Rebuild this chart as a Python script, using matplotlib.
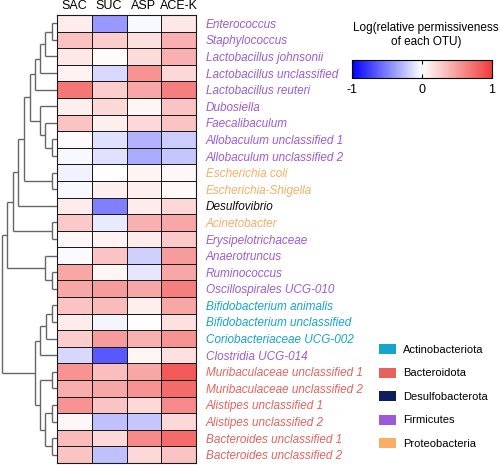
import numpy as np
import matplotlib
matplotlib.use("Agg")
import matplotlib.pyplot as plt
from matplotlib.colors import LinearSegmentedColormap, Normalize
from matplotlib.patches import Patch
import matplotlib.colorbar as mcolorbar

plt.rcParams['font.family'] = ['Liberation Sans', 'DejaVu Sans']

columns = ["SAC", "SUC", "ASP", "ACE-K"]

taxa = [
    "Enterococcus", "Staphylococcus", "Lactobacillus johnsonii",
    "Lactobacillus unclassified", "Lactobacillus reuteri", "Dubosiella",
    "Faecalibaculum", "Allobaculum unclassified 1", "Allobaculum unclassified 2",
    "Escherichia coli", "Escherichia-Shigella", "Desulfovibrio", "Acinetobacter",
    "Erysipelotrichaceae", "Anaerotruncus", "Ruminococcus",
    "Oscillospirales UCG-010", "Bifidobacterium animalis",
    "Bifidobacterium unclassified", "Coriobacteriaceae UCG-002",
    "Clostridia UCG-014", "Muribaculaceae unclassified 1",
    "Muribaculaceae unclassified 2", "Alistipes unclassified 1",
    "Alistipes unclassified 2", "Bacteroides unclassified 1",
    "Bacteroides unclassified 2",
]

phylum = [
    "Firmicutes", "Firmicutes", "Firmicutes", "Firmicutes", "Firmicutes",
    "Firmicutes", "Firmicutes", "Firmicutes", "Firmicutes",
    "Proteobacteria", "Proteobacteria", "Desulfobacterota", "Proteobacteria",
    "Firmicutes", "Firmicutes", "Firmicutes", "Firmicutes",
    "Actinobacteriota", "Actinobacteriota", "Actinobacteriota",
    "Firmicutes", "Bacteroidota", "Bacteroidota", "Bacteroidota",
    "Bacteroidota", "Bacteroidota", "Bacteroidota",
]

sac = [0.10, 0.32, 0.12, 0.07, 0.70, 0.08, 0.30, 0.02, -0.03, -0.05, -0.03, 0.10, 0.28,
       0.04, -0.02, 0.45, 0.45, 0.30, 0.10, 0.25, -0.15, 0.55, 0.42, 0.55, 0.04, 0.35, 0.30]
suc = [-0.40, 0.25, 0.02, -0.15, 0.25, 0.20, 0.08, -0.12, -0.12, 0.00, 0.08, -0.50, -0.08,
       0.07, 0.30, 0.05, 0.50, 0.35, -0.04, 0.50, -0.65, 0.33, 0.45, 0.30, -0.25, 0.20, -0.25]
asp = [-0.03, 0.15, 0.18, 0.55, 0.45, 0.05, 0.20, -0.30, -0.33, 0.06, 0.08, 0.10, 0.40,
       0.10, -0.18, -0.10, 0.45, 0.08, 0.00, 0.40, 0.05, 0.45, 0.55, 0.20, -0.22, 0.60, 0.20]
acek = [0.12, 0.40, 0.40, 0.20, 0.65, 0.30, 0.30, -0.20, -0.22, 0.04, 0.03, 0.20, 0.45,
        0.28, 0.50, 0.45, 0.65, 0.45, 0.15, 0.55, 0.15, 0.85, 0.75, 0.60, 0.20, 0.75, 0.30]

# dendrogram merges: (child a, child b, height); leaves 0..26, clusters numbered from 27
merges = [
    (0, 1, 5), (27, 2, 12), (28, 3, 17), (29, 4, 22),
    (7, 8, 5), (6, 31, 12), (5, 32, 17), (30, 33, 27),
    (9, 10, 5), (34, 35, 33), (36, 11, 39), (12, 13, 5), (37, 38, 44),
    (15, 16, 5), (14, 40, 12), (39, 41, 50),
    (17, 18, 5), (43, 19, 11), (44, 20, 17),
    (21, 22, 5), (23, 24, 5), (25, 26, 5), (47, 48, 12), (46, 49, 17),
    (45, 50, 22), (42, 51, 55),
]

phylum_colors = {
    "Actinobacteriota": "#14a5cc",
    "Bacteroidota": "#e8625c",
    "Desulfobacterota": "#0c1f5c",
    "Firmicutes": "#9b5bd6",
    "Proteobacteria": "#f9ae62",
}
text_colors = dict(phylum_colors)
text_colors["Desulfobacterota"] = "#111111"

vals = np.array([sac, suc, asp, acek]).T
n = len(taxa)

cmap = LinearSegmentedColormap.from_list("bwr2", ["#0000ff", "#ffffff", "#f03c3c"])
norm = Normalize(-1, 1)

W, H = 500, 465
fig = plt.figure(figsize=(W / 100, H / 100), dpi=100)

def fr(x0, y0, x1, y1):
    return [x0 / W, 1 - y1 / H, (x1 - x0) / W, (y1 - y0) / H]

ax = fig.add_axes(fr(57, 15, 196, 463))
ax.pcolormesh(np.arange(len(columns) + 1), np.arange(n + 1), vals, cmap=cmap, norm=norm,
              edgecolors="#1a1a1a", linewidth=0.7)
ax.set_xlim(0, len(columns))
ax.set_ylim(n, 0)
ax.xaxis.tick_top()
ax.set_xticks(np.arange(len(columns)) + 0.5)
ax.set_xticklabels(columns, fontsize=9)
ax.yaxis.tick_right()
ax.set_yticks(np.arange(n) + 0.5)
ax.set_yticklabels(taxa, fontsize=8.5, style="italic")
for lab, ph in zip(ax.get_yticklabels(), phylum):
    lab.set_color(text_colors[ph])
ax.tick_params(length=0)
ax.tick_params(axis="y", pad=7)
ax.tick_params(axis="x", pad=2)
for s in ax.spines.values():
    s.set_linewidth(0.8)
    s.set_color("#1a1a1a")

# dendrogram
axd = fig.add_axes(fr(1, 15, 57, 463))
pos = {i: i + 0.5 for i in range(n)}
hts = {i: 0.0 for i in range(n)}
for k, (a, b, h) in enumerate(merges):
    cid = n + k
    ya, yb = pos[a], pos[b]
    axd.plot([h, h], [ya, yb], color="#666666", lw=1.0, solid_capstyle="butt")
    axd.plot([hts[a], h], [ya, ya], color="#666666", lw=1.0, solid_capstyle="butt")
    axd.plot([hts[b], h], [yb, yb], color="#666666", lw=1.0, solid_capstyle="butt")
    pos[cid] = (ya + yb) / 2
    hts[cid] = h
axd.set_xlim(56, 0)
axd.set_ylim(n, 0)
axd.axis("off")

# colorbar
cax = fig.add_axes(fr(352, 60, 492, 78))
cb = mcolorbar.ColorbarBase(cax, cmap=cmap, norm=norm, orientation="horizontal")
cb.set_ticks([-1, 0, 1])
cb.set_ticklabels(["-1", "0", "1"])
cax.tick_params(labelsize=9, direction="in", length=3, top=True, width=0.8, pad=4)
cb.outline.set_linewidth(0.8)
fig.text(426 / W, 1 - 35 / H, "Log(relative permissiveness\nof each OTU)", ha="center",
         va="center", fontsize=8.5, linespacing=1.2)

# legend
handles = [Patch(facecolor=c, edgecolor="none") for c in phylum_colors.values()]
fig.legend(handles, list(phylum_colors.keys()), loc="upper left",
           bbox_to_anchor=(369 / W, 1 - 334 / H), frameon=False, fontsize=8,
           handlelength=1.55, handleheight=1.0, labelspacing=1.15, handletextpad=0.6)

fig.savefig("out.png", dpi=100)
